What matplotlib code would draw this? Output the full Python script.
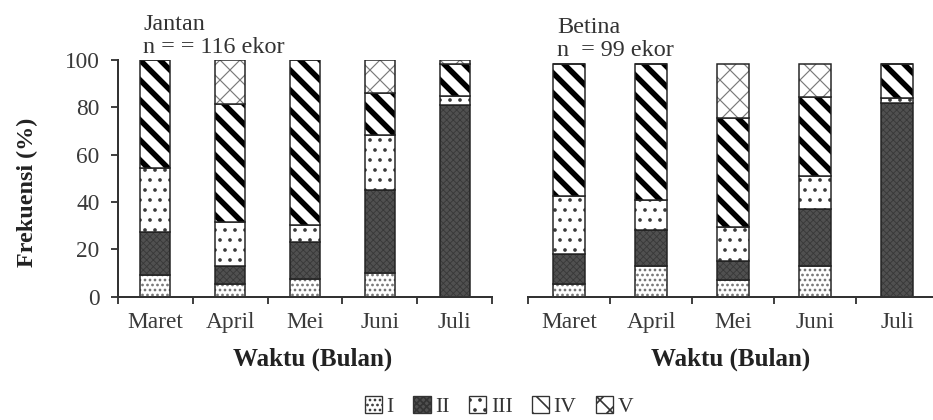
import matplotlib
matplotlib.use("Agg")
import matplotlib.pyplot as plt
from matplotlib.patches import Patch
import numpy as np

months = ["Maret", "April", "Mei", "Juni", "Juli"]
classes = ["I", "II", "III", "IV", "V"]

# Jantan (n = 116 ekor), % per class
jantan_I = [9, 5.5, 7.5, 10, 0]
jantan_II = [18.5, 7.5, 15.5, 35, 81]
jantan_III = [27, 18.5, 7.5, 23.5, 4]
jantan_IV = [45.5, 50, 69.5, 17.5, 13.5]
jantan_V = [0, 18.5, 0, 14, 1.5]

# Betina (n = 99 ekor)
betina_I = [5.5, 13, 7, 13, 0]
betina_II = [12.5, 15, 8, 24, 82]
betina_III = [24.5, 13, 14.5, 14, 2]
betina_IV = [56, 57.5, 46, 33.5, 14.5]
betina_V = [0, 0, 23, 14, 0]

yticks = [0, 20, 40, 60, 80, 100]

plt.rcParams["font.family"] = ["Liberation Serif", "DejaVu Serif"]

# fill look of each class: face, hatch, hatch colour, hatch width
styles = {
    "I": ("white", "....", "#707070", 1.0),
    "II": ("#505050", "xxxxxx", "#383838", 0.5),
    "III": ("white", "..", "#3a3a3a", 1.0),
    "IV": ("white", "\\\\", "black", 3.3),
    "V": ("white", "xx", "#7a7a7a", 0.7),
}

W, H, DPI = 933, 420, 120
fig = plt.figure(figsize=(W / DPI, H / DPI), dpi=DPI)

ax1 = fig.add_axes([118 / W, 123.3 / H, 374 / W, 236.7 / H])
ax2 = fig.add_axes([528 / W, 123.3 / H, 410 / W, 236.7 / H], sharey=ax1)


def set_hlw(patch, lw):
    if hasattr(patch, "set_hatch_linewidth"):
        patch.set_hatch_linewidth(lw)


def draw_panel(ax, series):
    x = np.arange(len(months))
    bottom = np.zeros(len(months))
    for name, vals in zip(classes, series):
        face, hatch, hc, hlw = styles[name]
        vals = np.array(vals, dtype=float)
        bars = ax.bar(x, vals, 0.4, bottom=bottom, color=face,
                      edgecolor=hc, hatch=hatch, linewidth=0)
        for b in bars:
            set_hlw(b, hlw)
        ax.bar(x, vals, 0.4, bottom=bottom, fill=False,
               edgecolor="#222222", linewidth=0.9)
        bottom += vals

    ax.set_xlim(-0.5, len(months) - 0.5)
    ax.set_ylim(0, 100)
    ax.set_xticks(x)
    ax.set_xticklabels(months, fontsize=14, color="#3a3a3a")
    ax.set_xticks(np.arange(-0.5, len(months), 1), minor=True)
    ax.tick_params(axis="x", which="major", length=0, pad=9)
    ax.tick_params(axis="x", which="minor", length=4, width=1.1,
                   direction="out", color="#333333")
    for s in ["top", "right"]:
        ax.spines[s].set_visible(False)
    ax.spines["bottom"].set_linewidth(1.2)
    ax.spines["bottom"].set_color("#333333")
    ax.set_xlabel("Waktu (Bulan)", fontsize=15, fontweight="bold",
                  color="#222222", va="top")


draw_panel(ax1, [jantan_I, jantan_II, jantan_III, jantan_IV, jantan_V])
draw_panel(ax2, [betina_I, betina_II, betina_III, betina_IV, betina_V])

ax1.set_yticks(yticks)
ax1.tick_params(axis="y", length=4, width=1.1, direction="out",
                labelsize=14, labelcolor="#3a3a3a", color="#333333", pad=7)
ax1.spines["left"].set_linewidth(1.2)
ax1.spines["left"].set_color("#333333")
ax1.set_ylabel("Frekuensi (%)", fontsize=14.5, fontweight="bold", color="#222222")
ax1.yaxis.set_label_coords(-0.215, 0.44)
ax1.xaxis.set_label_coords(0.52, -0.215)

ax2.spines["left"].set_visible(False)
ax2.tick_params(axis="y", left=False, labelleft=False)
ax2.xaxis.set_label_coords(0.495, -0.215)

# panel headers
fig.text(143 / W, 1 - 30 / H, "Jantan", fontsize=14.5, color="#333333", va="baseline")
fig.text(143 / W, 1 - 53 / H, "n = = 116 ekor", fontsize=14.5, color="#333333", va="baseline")
fig.text(557 / W, 1 - 33 / H, "Betina", fontsize=14.5, color="#333333", va="baseline")
fig.text(557 / W, 1 - 56 / H, "n  = 99 ekor", fontsize=14.5, color="#333333", va="baseline")

handles = []
for name in classes:
    face, hatch, hc, hlw = styles[name]
    p = Patch(facecolor=face, edgecolor="#333333", hatch=hatch, linewidth=0.8)
    set_hlw(p, min(hlw, 1.2))
    handles.append(p)
fig.legend(handles, classes, loc="center", bbox_to_anchor=(0.535, 0.032),
           ncol=5, frameon=False, handlelength=0.8, handleheight=0.8,
           handletextpad=0.2, columnspacing=0.9, fontsize=13,
           labelcolor="#333333")

fig.savefig("out.png", dpi=DPI)
